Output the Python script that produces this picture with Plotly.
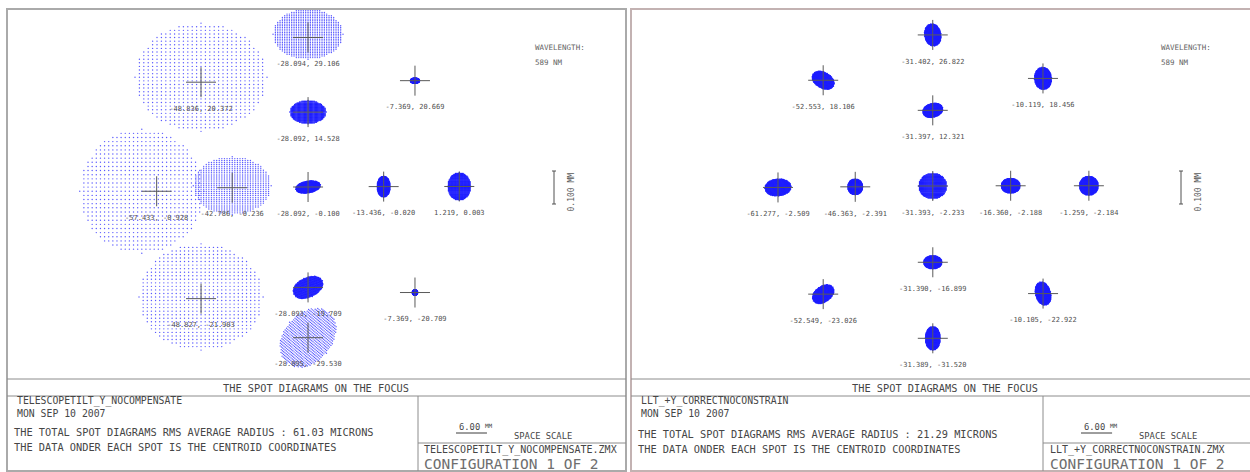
import numpy as np
import plotly.graph_objects as go

W, H = 1250, 472

# ---------------- data ----------------
# Left configuration: centroid coordinates (mm) and spot semi-axes (microns)
left_cx = [-28.094, -48.836, -7.369, -28.092, -57.433, -42.786, -28.092, -13.436, 1.219, -28.093, -48.827, -7.369, -28.095]
left_cy = [29.106, 20.372, 20.669, 14.528, -0.928, -0.236, -0.100, -0.020, 0.003, -19.709, -21.903, -20.709, -29.530]
left_a_um = [106, 200, 14, 55, 188, 118, 38, 20, 35, 48, 188, 8, 100]
left_b_um = [76, 164, 8, 35, 188, 88, 18, 32, 42, 30, 161, 8, 73]
left_ang = [0, 0, 0, 0, 0, 0, 10, 0, 0, 25, 0, 0, 50]
left_dx_um = [0, 0, 0, 0, -45, 0, 0, 0, 0, 0, 0, 0, 0]
left_dy_um = [-10, -15, 0, 0, 0, -6, 0, 0, 0, 0, -5, 0, 0]

# Right configuration
right_cx = [-31.402, -52.553, -10.119, -31.397, -61.277, -46.363, -31.393, -16.360, -1.259, -31.390, -52.549, -10.105, -31.389]
right_cy = [26.822, 18.106, 18.456, 12.321, -2.509, -2.391, -2.233, -2.188, -2.184, -16.899, -23.026, -22.922, -31.520]
right_a_um = [34, 36, 34, 31, 40, 23, 43, 29, 29, 28, 36, 36, 36]
right_b_um = [25, 24, 26, 21, 26, 24, 39, 23, 29, 20, 24, 23, 23]
right_ang = [100, -30, 95, 15, 5, 0, 0, 0, 0, 0, 35, 105, 90]
right_dx_um = [0] * 13
right_dy_um = [0] * 13

left_name = "TELESCOPETILT_Y_NOCOMPENSATE"
right_name = "LLT_+Y_CORRECTNOCONSTRAIN"
left_rms = 61.03
right_rms = 21.29
date_txt = "MON SEP 10 2007"
wavelength_nm = 589
space_scale_mm = 6.00
spot_scale_mm = 0.100

# ---------------- styling / layout constants ----------------
SPOT_PX_PER_MM = 330.0       # spot scale (0.100 mm bar = 33 px)
FONT = "DejaVu Sans Mono"
TXT = "rgb(70,70,70)"
FRAME = "rgb(170,170,170)"
LINE = "rgb(140,140,140)"
BLUE = "rgb(30,30,255)"
PALE = "rgb(90,90,255)"

panels = [
    dict(cx=left_cx, cy=left_cy, a=left_a_um, b=left_b_um, ang=left_ang, dx=left_dx_um, dy=left_dy_um,
         X0=453.0, SX=5.16, Y0=186.5, SY=5.12, area=(7, 626, 9, 379), off=0,
         name=left_name, rms=left_rms, xa="x", ya="y"),
    dict(cx=right_cx, cy=right_cy, a=right_a_um, b=right_b_um, ang=right_ang, dx=right_dx_um, dy=right_dy_um,
         X0=1095.4, SX=5.18, Y0=174.4, SY=5.2, area=(631, 1250, 9, 379), off=625,
         name=right_name, rms=right_rms, xa="x2", ya="y2"),
]


def PX(x):
    return x / W


def PY(y):
    return 1 - y / H


def spot_points(cx, cy, a_um, b_um, ang, dx_um, dy_um, sx, sy, n=31):
    g = np.linspace(-1, 1, n)
    u, v = np.meshgrid(g, g)
    m = u ** 2 + v ** 2 <= 1.0
    u, v = u[m], v[m]
    k = SPOT_PX_PER_MM / 1000.0
    ex = a_um * k * u
    ey = b_um * k * v
    t = np.radians(ang)
    rx = ex * np.cos(t) - ey * np.sin(t) + dx_um * k
    ry = ex * np.sin(t) + ey * np.cos(t) - dy_um * k
    return cx + rx / sx, cy + ry / sy


fig = go.Figure()
shapes = []
ann = []

for i, p in enumerate(panels):
    x0p, x1p, y0p, y1p = p["area"]
    xr = [(x0p - p["X0"]) / p["SX"], (x1p - p["X0"]) / p["SX"]]
    yr = [(p["Y0"] - y1p) / p["SY"], (p["Y0"] - y0p) / p["SY"]]
    sfx = "" if i == 0 else "2"
    fig.layout["xaxis" + sfx] = dict(domain=[PX(x0p), PX(x1p)], range=xr, visible=False,
                                     fixedrange=True, anchor="y" + sfx)
    fig.layout["yaxis" + sfx] = dict(domain=[PY(y1p), PY(y0p)], range=yr, visible=False,
                                     fixedrange=True, anchor="x" + sfx)

    # spots: large (sparse-looking) ones in pale dots, compact ones solid
    groups = {"pale": ([], []), "solid": ([], [])}
    for j in range(len(p["cx"])):
        sx_, sy_ = spot_points(p["cx"][j], p["cy"][j], p["a"][j], p["b"][j], p["ang"][j],
                               p["dx"][j], p["dy"][j], p["SX"], p["SY"])
        key = "pale" if p["a"][j] > 80 else "solid"
        groups[key][0].append(sx_)
        groups[key][1].append(sy_)
    for key, (gx, gy) in groups.items():
        if not gx:
            continue
        fig.add_trace(go.Scatter(x=np.concatenate(gx), y=np.concatenate(gy), mode="markers",
                                 marker=dict(size=1.4 if key == "pale" else 1.5,
                                             color=PALE if key == "pale" else BLUE, line=dict(width=0)),
                                 xaxis=p["xa"], yaxis=p["ya"], hoverinfo="skip", showlegend=False))

    # crosses (15 px half-length)
    hx, hy = 15 / p["SX"], 15 / p["SY"]
    lx, ly = [], []
    for cx, cy in zip(p["cx"], p["cy"]):
        lx += [cx - hx, cx + hx, None, cx, cx, None]
        ly += [cy, cy, None, cy - hy, cy + hy, None]
    fig.add_trace(go.Scatter(x=lx, y=ly, mode="lines", line=dict(color="rgb(90,90,90)", width=1),
                             xaxis=p["xa"], yaxis=p["ya"], hoverinfo="skip", showlegend=False))

    # centroid labels
    fig.add_trace(go.Scatter(x=p["cx"], y=[c - 27 / p["SY"] for c in p["cy"]], mode="text",
                             text=[f"{a:.3f}, {b:.3f}" for a, b in zip(p["cx"], p["cy"])],
                             textfont=dict(family=FONT, size=7, color="rgb(80,80,80)"),
                             textposition="middle center",
                             xaxis=p["xa"], yaxis=p["ya"], hoverinfo="skip", showlegend=False))

    o = p["off"]
    right_edge = 626 if i == 0 else 1251
    left_edge = 7 if i == 0 else 631
    # frame
    shapes.append(dict(type="rect", xref="paper", yref="paper", x0=PX(left_edge), x1=PX(right_edge),
                       y0=PY(471), y1=PY(9), line=dict(color=FRAME if i == 0 else "rgb(195,178,178)", width=2)))
    for yy in (379, 396):
        shapes.append(dict(type="line", xref="paper", yref="paper", x0=PX(left_edge), x1=PX(right_edge),
                           y0=PY(yy), y1=PY(yy), line=dict(color=LINE, width=1)))
    vx = 418 + o
    shapes.append(dict(type="line", xref="paper", yref="paper", x0=PX(vx), x1=PX(vx),
                       y0=PY(396), y1=PY(471), line=dict(color=LINE, width=1)))
    shapes.append(dict(type="line", xref="paper", yref="paper", x0=PX(vx), x1=PX(right_edge),
                       y0=PY(443), y1=PY(443), line=dict(color=LINE, width=1)))

    # space scale bar (6.00 mm)
    bx0 = 456 + o
    bx1 = bx0 + space_scale_mm * p["SX"]
    shapes.append(dict(type="line", xref="paper", yref="paper", x0=PX(bx0), x1=PX(bx1),
                       y0=PY(433), y1=PY(433), line=dict(color="rgb(60,60,60)", width=1)))
    # spot scale bar (0.100 mm)
    sbx = 554 + o + (2 if i == 1 else 0)
    sb_top = 171
    sb_bot = sb_top + spot_scale_mm * SPOT_PX_PER_MM
    shapes.append(dict(type="line", xref="paper", yref="paper", x0=PX(sbx), x1=PX(sbx),
                       y0=PY(sb_top), y1=PY(sb_bot), line=dict(color="rgb(80,80,80)", width=1)))
    for yy in (sb_top, sb_bot):
        shapes.append(dict(type="line", xref="paper", yref="paper", x0=PX(sbx - 2), x1=PX(sbx + 2),
                           y0=PY(yy), y1=PY(yy), line=dict(color="rgb(80,80,80)", width=1)))

    def T(x, y, s, size=10.3, anchor="left", color=TXT, angle=0, valign="middle"):
        ann.append(dict(x=PX(x), y=PY(y), xref="paper", yref="paper", text=s, showarrow=False,
                        xanchor=anchor, yanchor=valign, textangle=angle, align="left",
                        font=dict(family=FONT, size=size, color=color)))

    T(sbx + 17, (sb_top + sb_bot) / 2 + 5, f"{spot_scale_mm:.3f} MM", size=8, anchor="center",
      color="rgb(90,90,90)", angle=-90)
    T(533 + o + (1 if i else 0), 48, "WAVELENGTH:", size=7.5, color="rgb(100,100,100)")
    T(533 + o + (1 if i else 0), 63, f"{wavelength_nm} NM", size=7.5, color="rgb(100,100,100)")

    T(316 + o + (4 if i else 0), 388, "THE SPOT DIAGRAMS ON THE FOCUS", anchor="center")
    nx = 15 + o - (1 if i else 0)
    T(nx, 407, p["name"] + "<br>" + date_txt, size=9.8)
    tx = 12 + o - (1 if i else 0)
    T(tx, 432 + (2 if i else 0), f"THE TOTAL SPOT DIAGRAMS RMS AVERAGE RADIUS : {p['rms']:.2f} MICRONS")
    T(tx, 447 + (2 if i else 0), "THE DATA ONDER EACH SPOT IS THE CENTROID COORDINATES")
    T(bx0 + 1, 427, f"{space_scale_mm:.2f}", size=8.8)
    T(bx0 + 27, 425, "MM", size=6)
    T(512 + o, 436, "SPACE SCALE", size=8.8)
    zx = 422 + o + (1 if i else 0)
    T(zx, 449.5, p["name"] + ".ZMX", size=10)
    T(zx, 463.5, "CONFIGURATION 1 OF 2", size=14.5, color="rgb(110,110,110)")

fig.update_layout(width=W, height=H, margin=dict(l=0, r=0, t=0, b=0),
                  paper_bgcolor="white", plot_bgcolor="white",
                  shapes=shapes, annotations=ann, showlegend=False)

fig.write_html("out.html", config={"displayModeBar": False},
               post_script="document.body.style.margin='0';document.body.style.padding='0';")
